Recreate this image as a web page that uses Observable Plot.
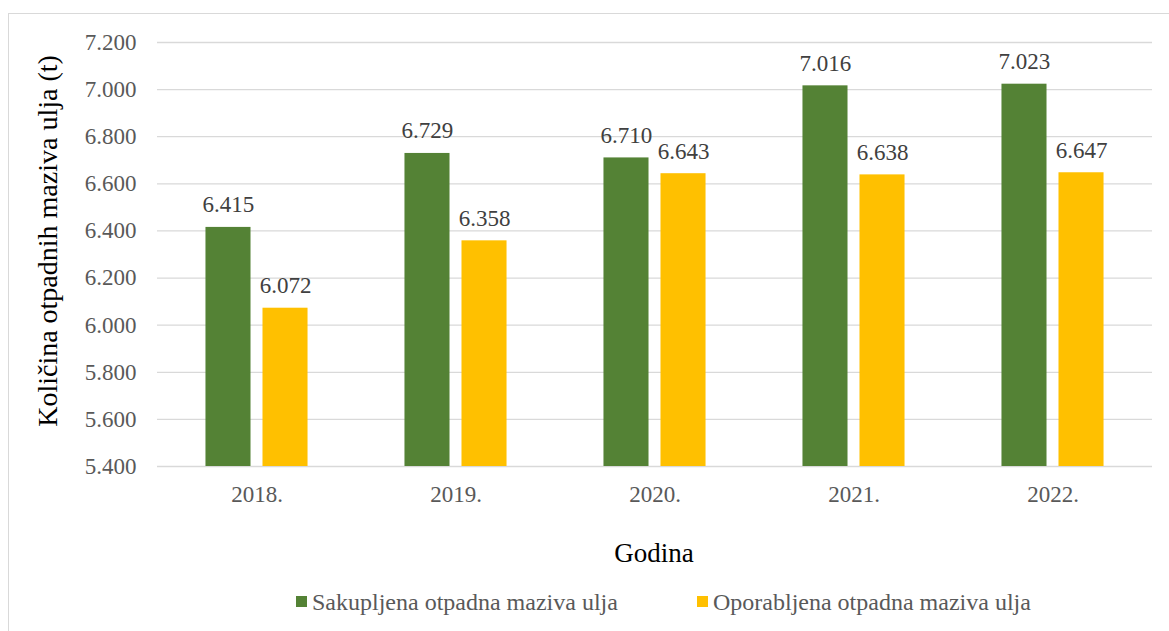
<!DOCTYPE html>
<html><head><meta charset="utf-8">
<script src="https://cdn.jsdelivr.net/npm/d3@7"></script>
<script src="https://cdn.jsdelivr.net/npm/@observablehq/plot@0.6"></script>
<style>
body{margin:0;background:#fff;}
#wrap{position:relative;width:1169px;height:631px;overflow:hidden;background:#fff;font-family:'Liberation Serif',serif;}
#border{position:absolute;left:8px;top:13px;width:1200px;height:700px;border:1px solid #d9d9d9;box-sizing:border-box;}
#chart{position:absolute;left:0;top:0;}
.lbl{position:absolute;line-height:1;white-space:nowrap;font-family:'Liberation Serif',serif;}
.sw{position:absolute;width:11px;height:11px;}
</style></head>
<body>
<div id="wrap"><div id="border"></div><div id="chart"></div></div>
<script>
const years = ["2018.", "2019.", "2020.", "2021.", "2022."];
const seriesNames = ["Sakupljena otpadna maziva ulja", "Oporabljena otpadna maziva ulja"];
const sakupljena = [6415, 6729, 6710, 7016, 7023];
const oporabljena = [6072, 6358, 6643, 6638, 6647];
const seriesColors = ["#548235", "#FFC000"];
const yTicks = [5400, 5600, 5800, 6000, 6200, 6400, 6600, 6800, 7000, 7200];
const yTitle = "Količina otpadnih maziva ulja (t)";
const xTitle = "Godina";

const FONT = "Liberation Serif";
const yMin = yTicks[0];
const locale = d3.formatLocale({decimal: ",", thousands: ".", grouping: [3], currency: ["", ""]});
const fmt = locale.format(",d");

const rows = [];
years.forEach((y, i) => {
  rows.push({year: y, series: seriesNames[0], value: sakupljena[i]});
  rows.push({year: y, series: seriesNames[1], value: oporabljena[i]});
});

const chart = Plot.plot({
  width: 1169,
  height: 520,
  marginTop: 42,
  marginBottom: 54,
  marginLeft: 156,
  marginRight: 17,
  style: {fontFamily: FONT, background: "transparent"},
  fx: {domain: years, padding: 0, label: null},
  x: {domain: seriesNames, paddingInner: 0.21, paddingOuter: 0.85, round: false, axis: null},
  y: {domain: [yTicks[0], yTicks[yTicks.length - 1]], axis: null},
  color: {domain: seriesNames, range: seriesColors},
  marks: [
    Plot.ruleY(yTicks, {stroke: "#d9d9d9", strokeWidth: 1.3}),
    Plot.barY(rows, {fx: "year", x: "series", y1: yMin, y2: "value", fill: "series"}),
    Plot.text(rows, {fx: "year", x: "series", y: "value", text: d => fmt(d.value), lineAnchor: "bottom", dy: -15, fontSize: 23, fontFamily: FONT, fill: "#404040"}),
    Plot.axisY(yTicks, {tickSize: 0, tickPadding: 21, tickFormat: fmt, fontSize: 23, fontFamily: FONT, color: "#595959", label: null}),
    Plot.axisFx({anchor: "bottom", tickSize: 0, tickPadding: 19, fontSize: 23, fontFamily: FONT, color: "#595959", label: null})
  ]
});
chart.style.setProperty("font-family", "'Liberation Serif', serif", "important");
chart.querySelectorAll("g, text, tspan").forEach(el => {
  el.setAttribute("font-family", FONT);
  el.style.setProperty("font-family", "'Liberation Serif', serif", "important");
});
document.getElementById("chart").appendChild(chart);

const wrap = d3.select("#wrap");
// y-axis title (rotated), centre (47.5, 241)
wrap.append("div").attr("class", "lbl")
  .style("left", "-202.5px").style("top", "227px").style("width", "500px")
  .style("text-align", "center").style("font-size", "28px").style("color", "#000")
  .style("transform", "rotate(-90deg)")
  .text(yTitle);
// x-axis title
wrap.append("div").attr("class", "lbl")
  .style("left", "354px").style("top", "539.5px").style("width", "600px")
  .style("text-align", "center").style("font-size", "27px").style("color", "#000")
  .text(xTitle);
// legend
const legendX = [296, 697];
seriesNames.forEach((name, i) => {
  wrap.append("div").attr("class", "sw")
    .style("left", legendX[i] + "px").style("top", "596px")
    .style("background", seriesColors[i]);
  wrap.append("div").attr("class", "lbl")
    .style("left", (legendX[i] + 16) + "px").style("top", "590px")
    .style("font-size", "24px").style("color", "#595959")
    .text(name);
});
</script>
</body></html>
